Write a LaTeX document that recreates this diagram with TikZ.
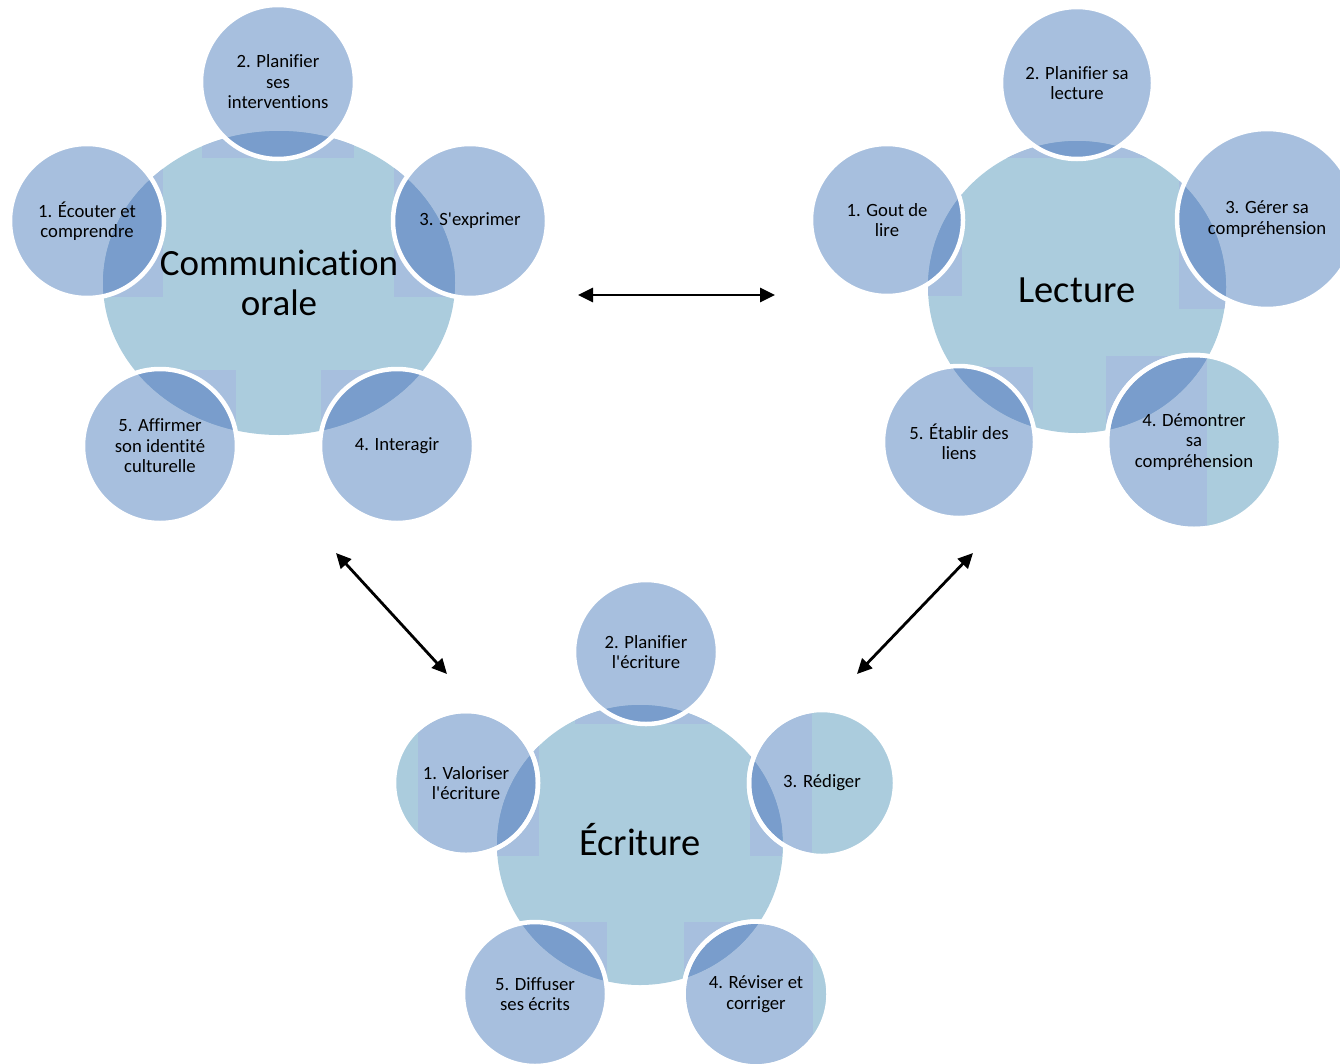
\documentclass[tikz,border=0pt]{standalone}
\usepackage{fontspec}
\setmainfont{Carlito}[Ligatures={TeXOff,CommonOff}]
\usetikzlibrary{shapes.geometric,arrows.meta}
\definecolor{hubc}{RGB}{171,204,221}
\definecolor{satc}{RGB}{72,122,186}
\definecolor{satlight}{RGB}{167,191,222}
\tikzset{
  hub/.style={ellipse, fill=hubc, inner sep=0pt},
  hubtext/.style={align=center, font=\fontsize{38.5}{41}\selectfont},
  sat/.style={circle, fill=satc, fill opacity=0.48, text opacity=1,
    draw=white, draw opacity=1, line width=4.5pt, inner sep=0pt,
    minimum size=#1, align=center, font=\fontsize{18.7}{20.5}\selectfont},
  sat/.default=154pt,
  tealright/.style={postaction={draw=white, draw opacity=1, line width=4.5pt,
    path picture={\fill[hubc, fill opacity=1]
      ([xshift=#1]path picture bounding box.south) rectangle
      (path picture bounding box.north east);}}},
  tealleft/.style={postaction={draw=white, draw opacity=1, line width=4.5pt,
    path picture={\fill[hubc, fill opacity=1]
      (path picture bounding box.south west) rectangle
      ([xshift=#1]path picture bounding box.north);}}},
  patch/.style={fill=satlight},
  link/.style={line width=2.8pt,
    {Triangle[length=15pt,width=14pt]}-{Triangle[length=15pt,width=14pt]}},
}
\begin{document}
\begin{tikzpicture}[x=1pt,y=-1pt]
\useasboundingbox (0,0) rectangle (1340,1063);

% ---- Communication orale ----
\node[hub, minimum width=352pt, minimum height=304pt] (comm) at (279,283) {};
\begin{scope}
  \clip (279,283) ellipse [x radius=176pt, y radius=152pt];
  \fill[patch] (202,6) rectangle (354,158);
  \fill[patch] (11,145) rectangle (163,297);
  \fill[patch] (394,145) rectangle (546,297);
  \fill[patch] (321,370) rectangle (473,522);
  \fill[patch] (84,370) rectangle (236,522);
\end{scope}
\node[sat] (c2) at (278,82) {2. Planifier\\ses\\interventions};
\node[sat] (c1) at (87,221) {1. Écouter et\\comprendre};
\node[sat] (c3) at (470,221) {3. S'exprimer};
\node[sat] (c4) at (397,446) {4. Interagir};
\node[sat] (c5) at (160,446) {5. Affirmer\\son identité\\culturelle};
\node[hubtext, font=\fontsize{37}{40}\selectfont] (commtext) at (279,283) {Communication\\orale};

% ---- Lecture ----
\node[hub, minimum width=298pt, minimum height=292pt] (lect) at (1077,287) {};
\begin{scope}
  \clip (1077,287) ellipse [x radius=149pt, y radius=146pt];
  \fill[patch] (1002,8) rectangle (1152,158);
  \fill[patch] (812,145) rectangle (962,296);
  \fill[patch] (1179,131) rectangle (1355,309);
  \fill[patch] (1106,356) rectangle (1207,528);
  \fill[patch] (884,367) rectangle (1033,517);
\end{scope}
\node[sat=152pt] (l2) at (1077,83) {2. Planifier sa\\lecture};
\node[sat=152pt] (l1) at (887,220) {1. Gout de\\lire};
\node[sat=180pt] (l3) at (1267,219) {3. Gérer sa\\compréhension};
\node[sat=174pt, tealright=13pt] (l4) at (1194,442) {4. Démontrer\\sa\\compréhension};
\node[sat=152pt] (l5) at (959,442) {5. Établir des\\liens};
\node[hubtext] (lecttext) at (1077,290) {Lecture};

% ---- Écriture ----
\node[hub, minimum width=286pt, minimum height=280pt] (ecri) at (640,845) {};
\begin{scope}
  \clip (640,845) ellipse [x radius=143pt, y radius=140pt];
  \fill[patch] (575,581) rectangle (717,724);
  \fill[patch] (418,712) rectangle (539,856);
  \fill[patch] (750,711) rectangle (782,856);
  \fill[patch] (684,922) rectangle (813,1066);
  \fill[patch] (464,922) rectangle (607,1065);
\end{scope}
\node[sat=144pt] (e2) at (646,652) {2. Planifier\\l'écriture};
\node[sat=144pt, tealleft=-48pt] (e1) at (466,783) {1. Valoriser\\l'écriture};
\node[sat=146pt, tealright=-10pt] (e3) at (822,783) {3. Rédiger};
\node[sat=145pt, tealright=57pt] (e4) at (756,994) {4. Réviser et\\corriger};
\node[sat=144pt] (e5) at (535,994) {5. Diffuser\\ses écrits};
\node[hubtext] (ecritext) at (640,840) {Écriture};

% ---- links ----
\coordinate (commR) at (578,295);
\coordinate (lectL) at (775,295);
\coordinate (commB) at (336,553);
\coordinate (ecriL) at (447,674);
\coordinate (lectB) at (973,553);
\coordinate (ecriR) at (857,674);
\draw[link] (commR) -- (lectL);
\draw[link] (commB) -- (ecriL);
\draw[link] (lectB) -- (ecriR);
\end{tikzpicture}
\end{document}
